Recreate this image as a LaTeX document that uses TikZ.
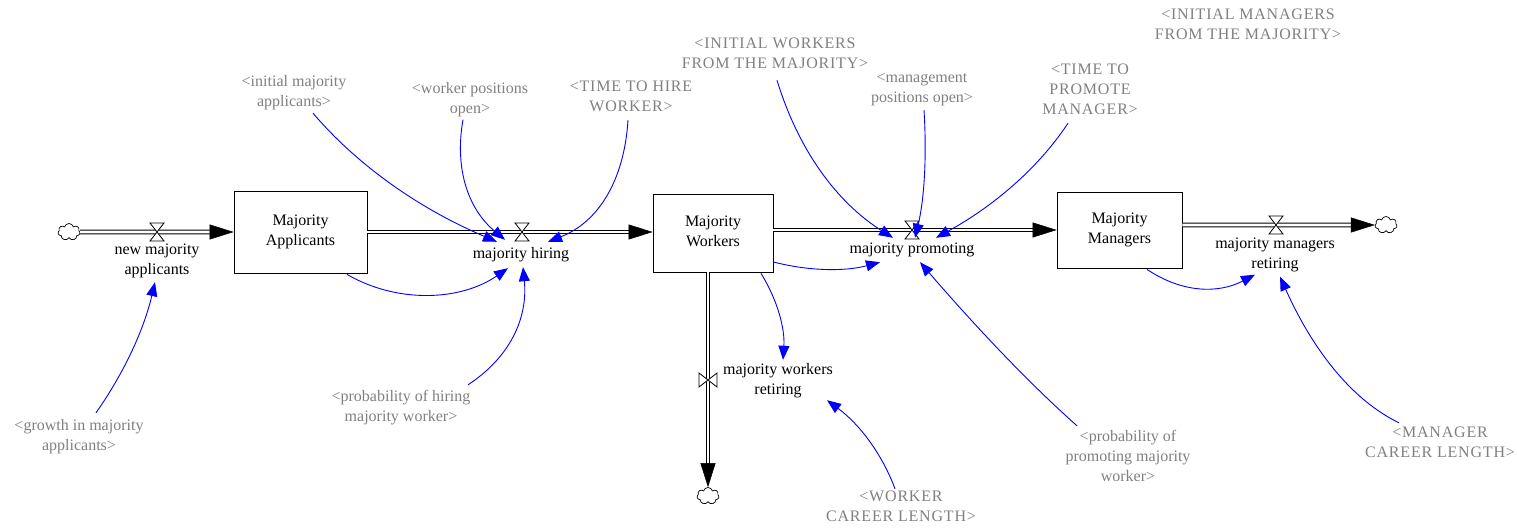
\documentclass[tikz,border=0pt]{standalone}
\usepackage{fontspec}
\setmainfont{Liberation Serif}
\newfontfamily\capsfont{Liberation Serif}[LetterSpace=5]
\usetikzlibrary{arrows.meta,shapes.symbols,calc}
\definecolor{shadowgray}{RGB}{128,128,128}
\definecolor{linkblue}{RGB}{0,0,255}
\begin{document}
\begin{tikzpicture}[x=1bp,y=-1bp,
  every node/.style={font=\fontsize{16bp}{20bp}\selectfont, inner sep=0pt, align=center},
  stockbox/.style={draw=black, line width=0.8bp, text=black},
  flowlabel/.style={text=black},
  shadowvar/.style={text=shadowgray},
  capsvar/.style={text=shadowgray, font=\capsfont\fontsize{16bp}{20bp}\selectfont},
  link/.style={draw=linkblue, line width=0.9bp, -{Triangle[length=14bp,width=11bp]}},
  pipe/.style={draw=black, double=white, double distance=2.6bp, line width=1bp, shorten >=12bp},
  pipetip/.style={draw=black, line width=0.5bp, -{Triangle[length=24bp,width=15bp]}},
  cloudnode/.style={cloud, draw=black, cloud puffs=7, aspect=1.25, minimum width=22bp, minimum height=17bp, inner sep=0pt, line width=0.7bp},
  valveh/.pic={\filldraw[fill=white, draw=black, line width=0.8bp] (-7,-9) -- (7,-9) -- (-7,9) -- (7,9) -- cycle;},
  valvev/.pic={\filldraw[fill=white, draw=black, line width=0.8bp] (-9,-7) -- (-9,7) -- (9,-7) -- (9,7) -- cycle;}
]
\useasboundingbox (0,0) rectangle (1517,530);

% stocks
\node[stockbox, minimum width=133bp, minimum height=82bp] (MA) at (300.5,232) {\strut Majority\\\strut Applicants};
\node[stockbox, minimum width=120bp, minimum height=78bp] (MW) at (713,233) {\strut Majority\\\strut Workers};
\node[stockbox, minimum width=125bp, minimum height=76bp] (MM) at (1119.5,230) {\strut Majority\\\strut Managers};

% clouds
\node[cloudnode] (c1) at (69,232) {};
\node[cloudnode] (c2) at (1386,225) {};
\node[cloudnode] (c3) at (708,496) {};

% valve positions
\coordinate (v1) at (157,232);
\coordinate (v2) at (522,232);
\coordinate (v3) at (912,230);
\coordinate (v4) at (1276,225);
\coordinate (v5) at (708,380);

% pipe end points
\coordinate (t1) at (MA.west);
\coordinate (t2) at (MW.west |- v2);
\coordinate (t3) at (MM.west |- v3);
\coordinate (t4) at (c2.west);
\coordinate (t5) at (c3.north);

% pipes
\draw[pipe] (c1.east) -- (t1);
\draw[pipe] (MA.east |- v2) -- (t2);
\draw[pipe] (MW.east |- v3) -- (t3);
\draw[pipe] (MM.east |- v4) -- (t4);
\draw[pipe] (v5 |- MW.south) -- (t5);

\draw[pipetip] ([xshift=-20bp]t1) -- (t1);
\draw[pipetip] ([xshift=-20bp]t2) -- (t2);
\draw[pipetip] ([xshift=-20bp]t3) -- (t3);
\draw[pipetip] ([xshift=-20bp]t4) -- (t4);
\draw[pipetip] ([yshift=20bp]t5) -- (t5);

% valves
\pic at (v1) {valveh};
\pic at (v2) {valveh};
\pic at (v3) {valveh};
\pic at (v4) {valveh};
\pic at (v5) {valvev};

% flow labels
\node[flowlabel] (nma) at (157,261) {\strut new majority\\\strut applicants};
\node[flowlabel] (hire) at (521,255) {\strut majority hiring};
\node[flowlabel] (prom) at (912,250) {\strut majority promoting};
\node[flowlabel] (mmr) at (1275,254.5) {\strut majority managers\\\strut retiring};
\node[flowlabel] (mwr) at (778,380) {\strut majority workers\\\strut retiring};

% shadow variables
\node[shadowvar] (iap) at (294,93) {\strut <initial majority\\\strut applicants>};
\node[shadowvar] (wpo) at (470,99.5) {\strut <worker positions\\\strut open>};
\node[capsvar] (tthw) at (631,97.5) {\strut <TIME TO HIRE\\\strut WORKER>};
\node[capsvar] (iwfm) at (775,54.5) {\strut <INITIAL WORKERS\\\strut FROM THE MAJORITY>};
\node[shadowvar] (mpo) at (922,88.5) {\strut <management\\\strut positions open>};
\node[capsvar] (ttpm) at (1090,90.5) {\strut <TIME TO\\\strut PROMOTE\\\strut MANAGER>};
\node[capsvar] (imfm) at (1248,26) {\strut <INITIAL MANAGERS\\\strut FROM THE MAJORITY>};
\node[shadowvar] (gima) at (79,436) {\strut <growth in majority\\\strut applicants>};
\node[shadowvar] (phmw) at (401,407.5) {\strut <probability of hiring\\\strut majority worker>};
\node[shadowvar] (ppmw) at (1128,457) {\strut <probability of\\\strut promoting majority\\\strut worker>};
\node[capsvar] (wcl) at (901,507) {\strut <WORKER\\\strut CAREER LENGTH>};
\node[capsvar] (mcl) at (1440,443) {\strut <MANAGER\\\strut CAREER LENGTH>};

% links
\draw[link] ([xshift=19bp]iap.south) .. controls +(45.3,53) and +(-77.3,-33) .. ([xshift=-24bp,yshift=3bp]hire.north);
\draw[link] ([xshift=-7bp]wpo.south) .. controls +(-8.7,49.3) and +(-36.7,-30.7) .. ([xshift=-16bp,yshift=5bp]hire.north);
\draw[link] ([xshift=-3bp,yshift=-2.5bp]tthw.south) .. controls +(-4,62) and +(49.3,-19.3) .. ([xshift=27bp,yshift=3bp]hire.north);
\draw[link] ([xshift=46.5bp,yshift=-1bp]MA.south) .. controls +(50,29) and +(-48,33) .. ([xshift=-13bp,yshift=-3bp]hire.south);
\draw[link] ([xshift=67bp,yshift=2.5bp]phmw.north) .. controls +(41.7,-27.3) and +(5,51.3) .. ([xshift=2bp,yshift=-2bp]hire.south);
\draw[link] ([xshift=17bp,yshift=3bp]gima.north) .. controls +(28.3,-40.3) and +(-11,47) .. ([xshift=-2bp,yshift=-1bp]nma.south);
\draw[link] ([xshift=2bp,yshift=-5.5bp]iwfm.south) .. controls +(21.3,70) and +(-56,-35.3) .. ([xshift=-19bp,yshift=2bp]prom.north);
\draw[link] ([xshift=2bp,yshift=-1.5bp]mpo.south) .. controls +(3,48) and +(9,-37.3) .. ([xshift=3bp,yshift=2bp]prom.north);
\draw[link] ([xshift=-22bp,yshift=-2.5bp]ttpm.south) .. controls +(-29.3,44.3) and +(58.7,-32.3) .. ([xshift=24bp,yshift=2bp]prom.north);
\draw[link] ([yshift=-29bp]MW.east) .. controls +(36.3,9.3) and +(-35,9.3) .. ([xshift=-32bp,yshift=-2bp]prom.south);
\draw[link] ([xshift=-51bp,yshift=1bp]ppmw.north) .. controls +(-43.7,-38.7) and +(61,70.7) .. ([xshift=8bp,yshift=-2bp]prom.south);
\draw[link] ([xshift=48bp,yshift=-1bp]MW.south) .. controls +(16.7,27) and +(2,-31) .. ([xshift=5bp]mwr.north);
\draw[link] ([xshift=-6bp,yshift=-2bp]wcl.north) .. controls +(-13.3,-35.7) and +(32,23.7) .. ([xshift=49bp]mwr.south);
\draw[link] ([xshift=27.5bp,yshift=-1bp]MM.south) .. controls +(34.7,23.3) and +(-37.3,19.3) .. ([xshift=-20bp]mmr.south);
\draw[link] ([xshift=-41bp]mcl.north) .. controls +(-45.7,-22) and +(33.7,75.3) .. ([xshift=5bp,yshift=-2bp]mmr.south);
\end{tikzpicture}
\end{document}
